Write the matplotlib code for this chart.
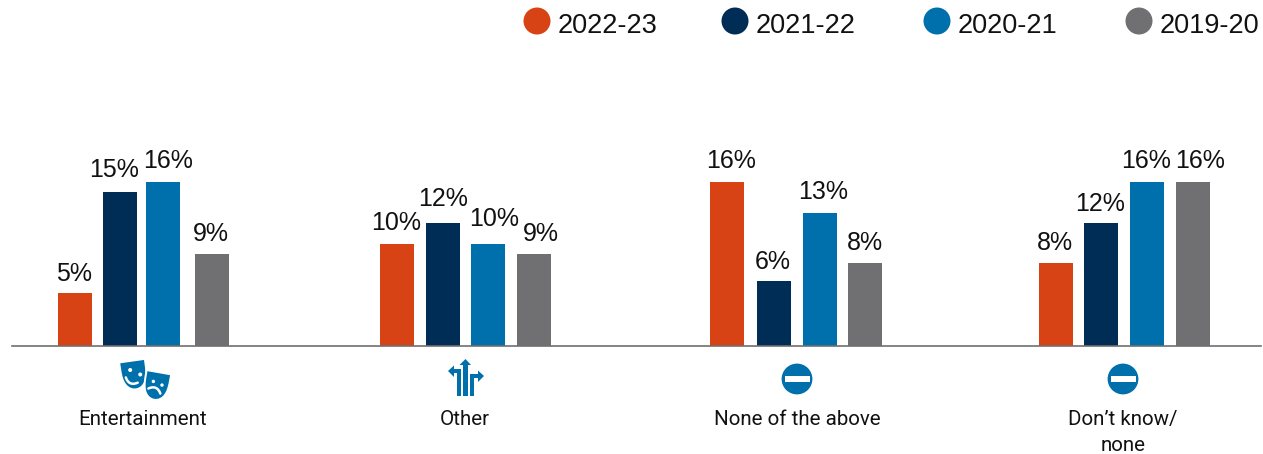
import numpy as np
from matplotlib import pyplot as plt
from matplotlib.patches import Circle, Rectangle, Polygon

plt.rcParams['font.family'] = ['Liberation Sans', 'DejaVu Sans']

W, H = 1263, 454

categories = ["Entertainment", "Other", "None of the above", "Don\u2019t know/\nnone"]
years = ["2022-23", "2021-22", "2020-21", "2019-20"]
colors = ["#D84315", "#002D55", "#0070AD", "#707072"]

# bar heights, the labels are the rounded values
v_2022 = [5.2, 10.0, 16.0, 8.1]
v_2021 = [15.0, 12.0, 6.3, 12.0]
v_2020 = [16.0, 10.0, 13.0, 16.0]
v_2019 = [9.0, 9.0, 8.1, 16.0]
series = [v_2022, v_2021, v_2020, v_2019]

# bar centres in pixels, one row per category
bar_x = [[75, 120, 163, 212], [397, 443, 488, 534], [727, 774, 820, 865], [1056, 1101, 1147, 1193]]
# value labels do not sit exactly over their bars
text_x = [[74, 114, 168, 211], [396, 443, 494, 541], [731, 773, 823, 865], [1055, 1100, 1146, 1200]]
text_y = [[281, 177, 168, 241], [230, 206, 226, 241], [168, 269, 199, 250], [250, 211, 168, 168]]
label_x = [143, 465, 797, 1123]

fig = plt.figure(figsize=(W / 100, H / 100), dpi=100)
ax = fig.add_axes([0, 0, 1, 1])
ax.set_xlim(0, W)
ax.set_ylim(H, 0)
ax.axis('off')

base = 346
per_pct = 10.25
for i, vals in enumerate(series):
    for j, v in enumerate(vals):
        ax.bar(bar_x[j][i], v * per_pct, width=34, bottom=base - v * per_pct, color=colors[i], linewidth=0)
        ax.text(text_x[j][i], text_y[j][i], f"{round(v)}%", ha='center', va='baseline',
                fontsize=18, color='#111111')

ax.plot([12, 1261], [base, base], color='#6f6f6f', lw=1.2)

for x, lab in zip(label_x, categories):
    first, *rest = lab.split('\n')
    ax.text(x, 425, first, ha='center', va='baseline', fontsize=14.8, color='#111111', family=['Roboto', 'DejaVu Sans'])
    for line in rest:
        ax.text(x, 451, line, ha='center', va='baseline', fontsize=14.8, color='#111111', family=['Roboto', 'DejaVu Sans'])

# legend
leg_dot = [537, 735, 937, 1139]
leg_txt = [558, 756, 958, 1160]
for x, tx, yr, c in zip(leg_dot, leg_txt, years, colors):
    ax.add_patch(Circle((x, 21), 13.5, color=c, lw=0))
    ax.text(tx, 33, yr, ha='left', va='baseline', fontsize=19.5, color='#111111')

blue = "#0070AD"


def mask_shape(cx, cy, w, h, angle):
    # flat top, rounded chin, turned around its centre
    t = np.linspace(0, np.pi, 30)
    px = np.r_[-w / 2, w / 2 * np.cos(t)[0], w / 2 * np.cos(t)]
    py = np.r_[-h / 2, -h / 2, -h / 2 + h * np.sin(t) ** 0.55]
    a = np.radians(angle)
    return np.c_[cx + px * np.cos(a) - py * np.sin(a), cy + px * np.sin(a) + py * np.cos(a)]


def to_mask(m, x, y):
    a = np.radians(m[2])
    return m[0] + x * np.cos(a) - y * np.sin(a), m[1] + x * np.sin(a) + y * np.cos(a)


def smile(m, sign):
    # mouth as a thick white arc in mask coordinates
    t = np.linspace(-1, 1, 15)
    pts = [to_mask(m, 6.5 * s, 5.5 + sign * (1 - s * s) * 3.5) for s in t]
    ax.plot(*zip(*pts), color='white', lw=1.8, solid_capstyle='round')


# masks icon
happy = (134, 375, 24, 27, -8)
sad = (156.5, 386, 23, 26, 10)
ax.add_patch(Polygon(mask_shape(*happy), color=blue, lw=0))
ax.add_patch(Polygon(mask_shape(sad[0], sad[1], sad[2] + 4, sad[3] + 4, sad[4]), color='white', lw=0))
ax.add_patch(Polygon(mask_shape(*sad), color=blue, lw=0))
for ex in (-5.5, 5.5):
    ax.add_patch(Circle(to_mask(happy, ex, -3), 2, color='white', lw=0))
    ax.add_patch(Circle(to_mask(sad, ex * 0.85, -3), 1.7, color='white', lw=0))
smile(happy, 1)
smile(sad, -1)

# arrows icon
ax.add_patch(Rectangle((463.2, 364), 4.4, 32, color=blue, lw=0))
ax.add_patch(Polygon([[459.5, 365], [465.5, 359], [471, 365]], color=blue, lw=0))
ax.add_patch(Rectangle((457, 369), 4.4, 27, color=blue, lw=0))
ax.add_patch(Rectangle((453, 369), 8.4, 4.2, color=blue, lw=0))
ax.add_patch(Polygon([[454, 365.5], [448, 371], [454, 377]], color=blue, lw=0))
ax.add_patch(Rectangle((470, 374), 4.4, 22, color=blue, lw=0))
ax.add_patch(Rectangle((470, 374), 9, 4.2, color=blue, lw=0))
ax.add_patch(Polygon([[478, 370.5], [484, 376], [478, 382]], color=blue, lw=0))

# no entry icons
for x in label_x[2:]:
    ax.add_patch(Circle((x, 379), 15.4, color=blue, lw=0))
    ax.add_patch(Rectangle((x - 12.5, 376.3), 25, 5.7, color='white', lw=0))

fig.savefig('out.png', dpi=100)
